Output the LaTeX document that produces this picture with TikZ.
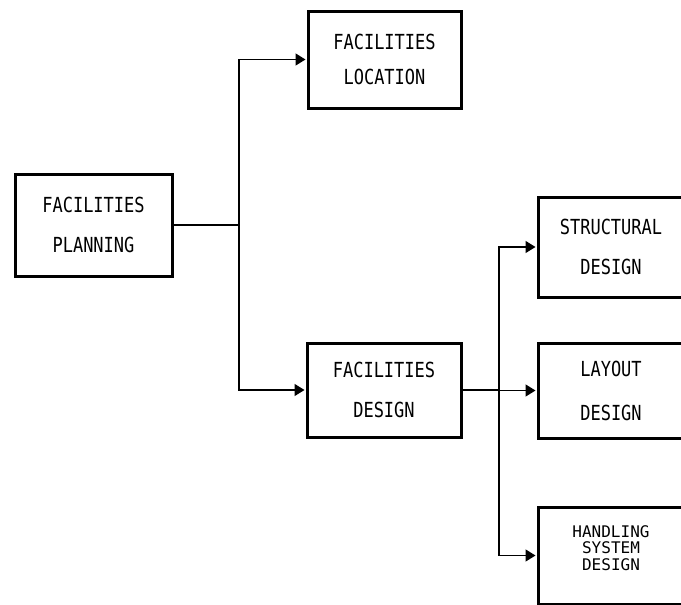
\documentclass[tikz,border=0pt]{standalone}
\usepackage{fontspec}
\setmonofont{DejaVu Sans Mono}
\usetikzlibrary{arrows.meta}
% one line of plotter-style lettering: monospaced, stretched upwards
\newcommand\pl[1]{\scalebox{1}[1.22]{#1}}
\tikzset{
  box/.style={draw, line width=3pt, inner sep=0pt, align=center,
    font=\ttfamily\fontsize{17}{40}\selectfont},
  conn/.style={line width=1.4pt},
  arr/.style={conn, -{Triangle[length=10pt,width=12pt]}, shorten >=1pt},
}
\begin{document}
\begin{tikzpicture}[x=1pt,y=-1pt]
  \fill[white] (0,0) rectangle (681,605);
  \useasboundingbox (0,0) rectangle (681,605);

  \node[box, minimum width=157pt, minimum height=102pt] (plan) at (93.5,225)
    {\pl{FACILITIES}\\\pl{PLANNING}};
  \node[box, minimum width=153pt, minimum height=97pt,
        font=\ttfamily\fontsize{17}{35}\selectfont] (loc) at (384.5,59.5)
    {\pl{FACILITIES}\\\pl{LOCATION}};
  \node[box, minimum width=154pt, minimum height=94pt] (des) at (384,390)
    {\pl{FACILITIES}\\\pl{DESIGN}};

  \node[box, minimum width=146pt, minimum height=100pt] (str) at (611,247)
    {\pl{STRUCTURAL}\\\pl{DESIGN}};
  \node[box, minimum width=146pt, minimum height=95pt,
        font=\ttfamily\fontsize{17}{44}\selectfont] (lay) at (611,390.5)
    {\pl{LAYOUT}\\\pl{DESIGN}};
  \node[box, minimum width=146pt, minimum height=97pt] (hand) at (611,555.5) {};
  \node[align=center, inner sep=0pt,
        font=\ttfamily\fontsize{16}{16.5}\selectfont] (handtxt)
    at ([yshift=7.5pt]hand.center)
    {HANDLING\\SYSTEM\\DESIGN};

  % branching from planning to location and design
  \coordinate (j1) at (239,225);
  \draw[conn] (plan.east) -- (j1);
  \draw[arr] (j1) |- (loc.west);
  \draw[arr] (j1) |- (des.west);

  % branching from design to the three design areas
  \coordinate (j2) at (499,390);
  \draw[conn] (des.east) -- (j2);
  \draw[arr] (j2) |- (str.west);
  \draw[arr] (j2) |- (lay.west);
  \draw[arr] (j2) |- (hand.west);
\end{tikzpicture}
\end{document}
